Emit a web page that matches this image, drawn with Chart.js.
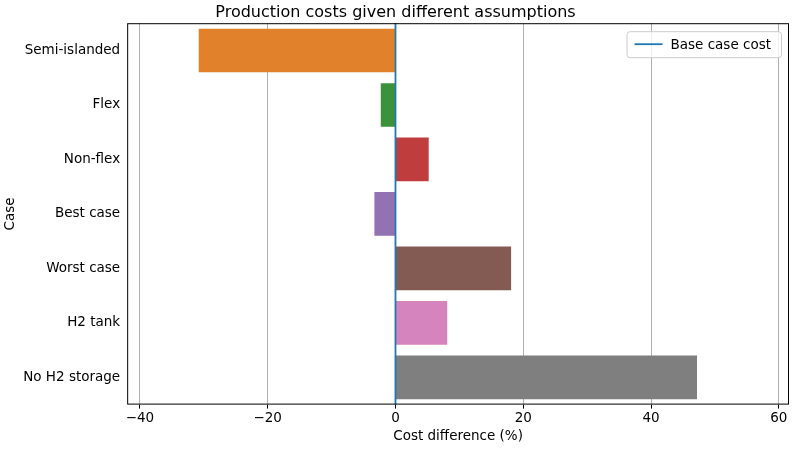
<!DOCTYPE html>
<html><head><meta charset="utf-8">
<script src="https://cdn.jsdelivr.net/npm/chart.js@4"></script>
<style>body{margin:0;background:#fff}#wrap{width:801px;height:449px}</style>
</head><body><div id="wrap"><canvas id="c"></canvas></div>
<script>
const cases = ['Semi-islanded','Flex','Non-flex','Best case','Worst case','H2 tank','No H2 storage'];
const costDiff = [-30.8, -2.3, 5.2, -3.3, 18.1, 8.1, 47.2];
const barColors = ['#e1812c','#3a923a','#c03d3e','#9372b2','#845b53','#d684bd','#7f7f7f'];
const xTicks = [-40,-20,0,20,40,60];
const baseCost = 0;
const legendLabel = 'Base case cost';

const baseLine = {
  id:'baseLine',
  afterDatasetsDraw(chart){
    const {ctx, chartArea:a, scales:{x}} = chart;
    const px = x.getPixelForValue(baseCost);
    ctx.save(); ctx.strokeStyle='#1f77b4'; ctx.lineWidth=1.8;
    ctx.beginPath(); ctx.moveTo(px,a.top); ctx.lineTo(px,a.bottom); ctx.stroke();
    ctx.strokeStyle='#000'; ctx.lineWidth=1;
    ctx.strokeRect(a.left+0.5,a.top+0.5,a.right-a.left-1,a.bottom-a.top-1);
    // legend box
    ctx.font = '13.5px "DejaVu Sans"';
    const tw = ctx.measureText(legendLabel).width;
    const w = tw + 54, h = 26, bx = a.right - 8 - w, by = a.top + 8;
    ctx.fillStyle='rgba(255,255,255,0.8)'; ctx.strokeStyle='#ccc';
    ctx.beginPath(); ctx.roundRect(bx+0.5,by+0.5,w,h,3); ctx.fill(); ctx.stroke();
    ctx.strokeStyle='#1f77b4'; ctx.lineWidth=1.8;
    ctx.beginPath(); ctx.moveTo(bx+8,by+h/2); ctx.lineTo(bx+36,by+h/2); ctx.stroke();
    ctx.fillStyle='#000'; ctx.textBaseline='middle';
    ctx.fillText(legendLabel, bx+44, by+h/2+1);
    ctx.restore();
  }
};

Chart.defaults.font.family = 'DejaVu Sans';
Chart.defaults.font.size = 13.5;
Chart.defaults.color = '#000';

new Chart(document.getElementById('c'), {
  type:'bar',
  data:{labels:cases, datasets:[
    {label:'bars', data:costDiff, backgroundColor:barColors, categoryPercentage:0.8, barPercentage:1}
  ]},
  options:{
    indexAxis:'y', responsive:true, maintainAspectRatio:false, animation:false,
    layout:{padding:{top:0,right:12,left:2,bottom:0}},
    scales:{
      x:{min:-42, max:61.6, afterBuildTicks(s){s.ticks = xTicks.map(v=>({value:v}));},
        ticks:{callback:v=>v<0?'\u2212'+Math.abs(v):v, maxRotation:0, padding:2},
        grid:{color:'#b0b0b0', drawTicks:true, tickLength:4, tickColor:'#000'}, border:{display:false},
        title:{display:true, text:'Cost difference (%)', padding:{top:0,bottom:4}}},
      y:{grid:{display:false, drawTicks:true, tickLength:4, tickColor:'#000'}, border:{display:false},
        ticks:{padding:3},
        title:{display:true, text:'Case', padding:{top:0,bottom:2}}}
    },
    plugins:{
      title:{display:true, text:'Production costs given different assumptions', font:{size:16, weight:'normal'}, padding:{top:3,bottom:1}},
      legend:{display:false},
      tooltip:{enabled:false}
    }
  },
  plugins:[baseLine]
});
</script></body></html>
